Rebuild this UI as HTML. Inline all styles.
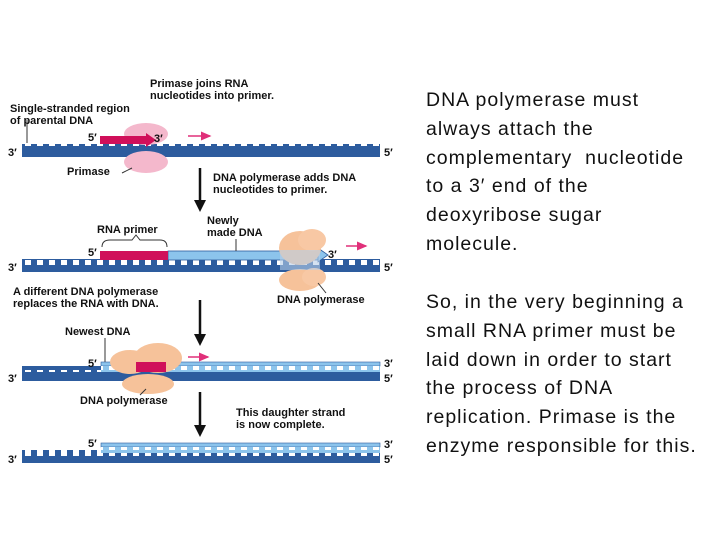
<!DOCTYPE html>
<html><head><meta charset="utf-8"><style>
body{margin:0;width:720px;height:540px;background:#fff;position:relative;overflow:hidden;font-family:"Liberation Sans",sans-serif}
.t{position:absolute;left:426px;font-size:19.5px;line-height:28.8px;color:#111;white-space:nowrap;letter-spacing:1px}
svg text{font-family:"Liberation Sans",sans-serif;font-weight:bold;font-size:11px;fill:#111}
</style></head><body>
<svg width="720" height="540" style="position:absolute;left:0;top:0">
<defs>
<pattern id="tb" x="22" y="0" width="12" height="10" patternUnits="userSpaceOnUse"><rect x="0" y="0" width="12" height="10" fill="#2d5c9e"/><rect x="3" y="0" width="6" height="6" fill="#fff"/></pattern>
<pattern id="tt" x="22" y="0" width="12" height="10" patternUnits="userSpaceOnUse"><rect x="0" y="0" width="12" height="10" fill="#8cc4ec"/><rect x="3" y="4" width="6" height="6" fill="#fff"/></pattern>
<marker id="ar" markerWidth="8" markerHeight="8" refX="6" refY="4" orient="auto"><path d="M0,1 L7,4 L0,7Z" fill="#e0307a"/></marker>
</defs>
<rect x="22" y="144" width="358" height="6" fill="url(#tb)"/>
<rect x="22" y="150" width="358" height="7" fill="#2d5c9e"/>
<ellipse cx="146" cy="134" rx="22" ry="11" fill="#f4b8cc"/>
<ellipse cx="146" cy="162" rx="22" ry="11" fill="#f4b8cc"/>
<rect x="100" y="136" width="46" height="8" fill="#d0105a"/>
<path d="M146,133 L156,140 L146,147Z" fill="#d0105a"/>
<line x1="188" y1="136" x2="210" y2="136" stroke="#e0307a" stroke-width="1.5" marker-end="url(#ar)"/>
<line x1="27" y1="143" x2="27" y2="120" stroke="#333"/>
<text x="10" y="112">Single-stranded region</text><text x="10" y="124">of parental DNA</text>
<text x="150" y="87">Primase joins RNA</text><text x="150" y="99">nucleotides into primer.</text>
<text x="88" y="141">5′</text><text x="154" y="142">3′</text>
<text x="8" y="156">3′</text><text x="384" y="156">5′</text>
<text x="67" y="175">Primase</text>
<line x1="122" y1="173" x2="132" y2="168" stroke="#333"/>
<line x1="200" y1="168" x2="200" y2="205" stroke="#111" stroke-width="2.5"/><path d="M194,200 L200,212 L206,200Z" fill="#111"/>
<text x="213" y="181">DNA polymerase adds DNA</text><text x="213" y="193">nucleotides to primer.</text>
<rect x="22" y="259" width="358" height="6" fill="url(#tb)"/>
<rect x="22" y="265" width="358" height="7" fill="#2d5c9e"/>
<rect x="168" y="251" width="152" height="9" fill="#8cc4ec" stroke="#2d5c9e" stroke-width="0.8"/>
<path d="M318,248 L328,255 L318,262Z" fill="#8cc4ec" stroke="#2d5c9e" stroke-width="0.8"/>
<rect x="100" y="251" width="68" height="9" fill="#d0105a"/>
<path d="M102,247 Q102,240 110,240 L132,240 L136,235 L140,240 L160,240 Q167,240 167,247" fill="none" stroke="#333"/>
<text x="97" y="233">RNA primer</text>
<text x="207" y="224">Newly</text><text x="207" y="236">made DNA</text>
<line x1="236" y1="239" x2="236" y2="251" stroke="#333"/>
<ellipse cx="300" cy="248" rx="21" ry="17" fill="#f6c29a"/>
<ellipse cx="312" cy="240" rx="14" ry="11" fill="#f8c8a4"/>
<ellipse cx="300" cy="280" rx="21" ry="11" fill="#f6c29a"/>
<ellipse cx="314" cy="277" rx="12" ry="9" fill="#f8c8a4"/>
<rect x="280" y="250" width="40" height="20" fill="#b8cfe8" opacity="0.6"/>
<line x1="346" y1="246" x2="366" y2="246" stroke="#e0307a" stroke-width="1.5" marker-end="url(#ar)"/>
<text x="88" y="256">5′</text><text x="328" y="258">3′</text>
<text x="8" y="271">3′</text><text x="384" y="271">5′</text>
<text x="277" y="303">DNA polymerase</text>
<line x1="318" y1="283" x2="326" y2="293" stroke="#333"/>
<text x="13" y="295">A different DNA polymerase</text><text x="13" y="307">replaces the RNA with DNA.</text>
<line x1="200" y1="300" x2="200" y2="338" stroke="#111" stroke-width="2.5"/><path d="M194,334 L200,346 L206,334Z" fill="#111"/>
<text x="65" y="335">Newest DNA</text>
<line x1="105" y1="338" x2="105" y2="362" stroke="#333"/>
<rect x="22" y="366" width="358" height="6" fill="url(#tb)"/>
<rect x="22" y="372" width="358" height="9" fill="#2d5c9e"/>
<rect x="101" y="362" width="279" height="4" fill="#8cc4ec" stroke="#2d5c9e" stroke-width="0.6"/>
<rect x="101" y="366" width="279" height="6" fill="url(#tt)"/>
<ellipse cx="130" cy="362" rx="20" ry="12" fill="#f6c29a"/>
<ellipse cx="158" cy="358" rx="24" ry="15" fill="#f6c29a"/>
<ellipse cx="148" cy="384" rx="26" ry="10" fill="#f6c29a"/>
<rect x="136" y="362" width="30" height="10" fill="#d0105a"/>
<line x1="188" y1="357" x2="208" y2="357" stroke="#e0307a" stroke-width="1.5" marker-end="url(#ar)"/>
<text x="88" y="367">5′</text><text x="384" y="367">3′</text>
<text x="8" y="382">3′</text><text x="384" y="382">5′</text>
<text x="80" y="404">DNA polymerase</text>
<line x1="140" y1="395" x2="146" y2="389" stroke="#333"/>
<line x1="200" y1="392" x2="200" y2="428" stroke="#111" stroke-width="2.5"/><path d="M194,425 L200,437 L206,425Z" fill="#111"/>
<text x="236" y="416">This daughter strand</text><text x="236" y="428">is now complete.</text>
<rect x="22" y="450" width="358" height="6" fill="url(#tb)"/>
<rect x="22" y="456" width="358" height="7" fill="#2d5c9e"/>
<rect x="101" y="443" width="279" height="4" fill="#8cc4ec" stroke="#2d5c9e" stroke-width="0.6"/>
<rect x="101" y="447" width="279" height="6" fill="url(#tt)"/>
<text x="88" y="447">5′</text><text x="384" y="448">3′</text>
<text x="8" y="463">3′</text><text x="384" y="463">5′</text>
</svg>
<div class="t" style="top:86px">DNA polymerase must<br>always attach the<br>complementary&nbsp; nucleotide<br>to a 3′ end of the<br>deoxyribose sugar<br>molecule.</div>
<div class="t" style="top:288px">So, in the very beginning a<br>small RNA primer must be<br>laid down in order to start<br>the process of DNA<br>replication. Primase is the<br>enzyme responsible for this.</div>
</body></html>
